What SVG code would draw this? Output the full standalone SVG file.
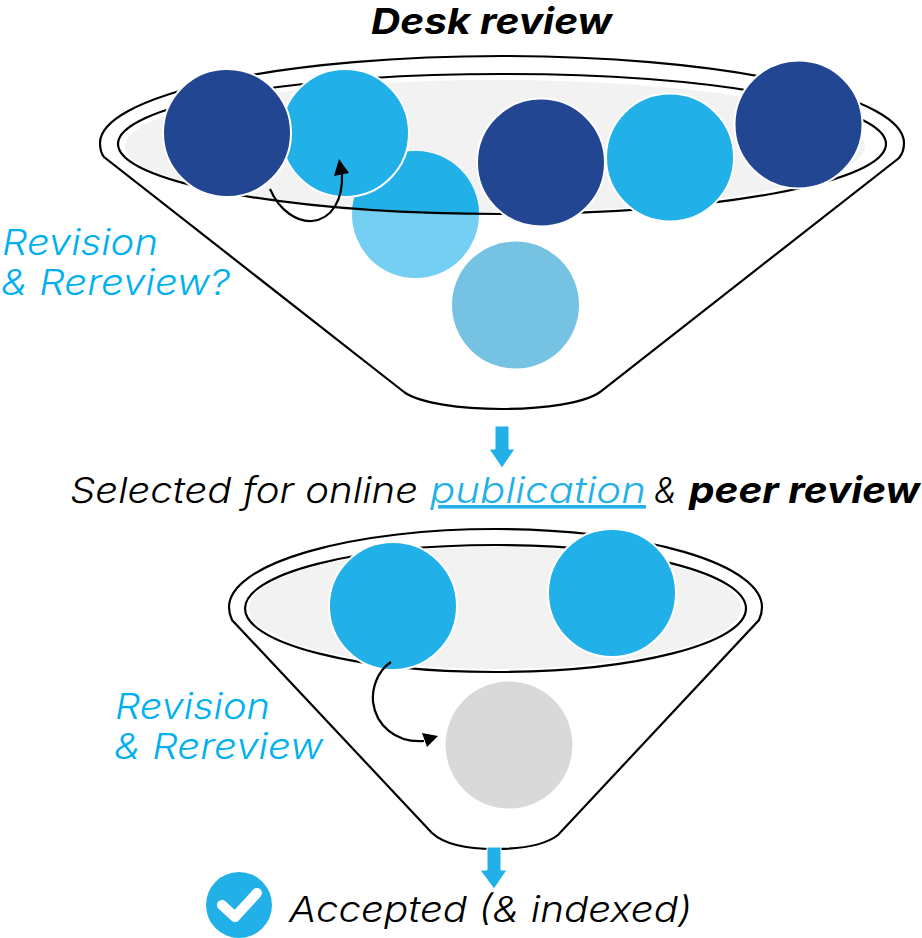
<svg xmlns="http://www.w3.org/2000/svg" width="922" height="938" viewBox="0 0 922 938">
<style>
.rim{fill:none;stroke:#000;stroke-width:2.2}
.basin{fill:#f2f2f2}
.ball{stroke:#fff;stroke-width:2}
.dark{fill:#224691}
.blue{fill:#22b0e8}
text{font-family:"Inter","Open Sans","Liberation Sans",sans-serif;font-style:italic;font-weight:300;font-size:36px;fill:#000}
.rev{fill:#00b0f0}
.b{font-weight:700}
.flow{fill:#22b0e8;stroke:#fff;stroke-width:1}
.curve{fill:none;stroke:#000;stroke-width:2.200}
</style>
<defs>
<clipPath id="topBasin"><ellipse cx="502" cy="144" rx="384" ry="70"/></clipPath>
</defs>
<rect width="922" height="938" fill="#fff"/>

<g id="funnel-top">
<path class="rim" d="M404,392L104,157Q100,152 100,143A402,87 0 0 1 904,143Q904,152 899,158L600,392C585,403 544,409 502,409C460,409 419,403 404,392Z"/>
<ellipse class="basin" cx="495" cy="146" rx="370" ry="66"/>
</g>
<g id="funnel-bottom">
<path class="rim" d="M432,833L232,620Q229,614 229,607A266.500,78 0 0 1 762,607Q762,614 759,620L558,835C545,845 522,849 495,849C468,849 445,845 432,833Z"/>
<ellipse class="basin" cx="495" cy="608" rx="246" ry="61"/>
<ellipse class="rim" cx="495.500" cy="608.500" rx="250.500" ry="63.500"/>
</g>

<g id="ball-sinking">
<circle cx="415.500" cy="214.500" r="63.500" fill="#74cff2"/>
<circle class="blue" cx="415.500" cy="214.500" r="63.500" clip-path="url(#topBasin)"/>
</g>
<ellipse id="rim-top-inner" class="rim" cx="502" cy="144" rx="384" ry="70"/>
<g id="ball-2"><circle class="ball blue" cx="345" cy="133" r="64"/></g>
<g id="ball-1"><circle class="ball dark" cx="227" cy="133" r="64"/></g>
<g id="ball-3"><circle class="ball dark" cx="541" cy="162.500" r="64"/></g>
<g id="ball-4"><circle class="ball blue" cx="670" cy="157.500" r="64"/></g>
<g id="ball-5"><circle class="ball dark" cx="798.500" cy="124.500" r="64"/></g>
<g id="ball-6"><circle cx="515.500" cy="305" r="63.500" fill="#75c2e3"/></g>
<g id="ball-7"><circle class="ball blue" cx="393" cy="606" r="64"/></g>
<g id="ball-8"><circle class="ball blue" cx="612" cy="593" r="64"/></g>
<g id="ball-9"><circle cx="509" cy="745" r="63.500" fill="#d9d9d9"/></g>

<g id="connectors">
<path class="curve" d="M270,189C280,212 298,222 312,221C332,219 343,200 342,174"/>
<path d="M339,159L349,173L334,176Z"/>
<path class="curve" d="M391,662C376,672 372,690 373,702C376,725 395,743 424,741"/>
<path d="M438,736L422,733L427,747Z"/>
<path class="flow" d="M495,426H509V449H515L502,468L489,449H495Z"/>
<path class="flow" d="M487,847H501V870H507L494,889L480,870H487Z"/>
</g>

<g id="check">
<circle cx="239" cy="905" r="33" fill="#22b0e8"/>
<path d="M222,905L235,917L257,893" fill="none" stroke="#fff" stroke-width="10" stroke-linecap="round" stroke-linejoin="round"/>
</g>

<g id="labels">
<text class="b" x="371" y="34" textLength="241" lengthAdjust="spacingAndGlyphs">Desk review</text>
<text class="rev" x="2" y="255" textLength="156" lengthAdjust="spacingAndGlyphs">Revision</text>
<text class="rev" x="1" y="295" textLength="229" lengthAdjust="spacingAndGlyphs">&amp; Rereview?</text>
<text x="70" y="503"><tspan textLength="348" lengthAdjust="spacingAndGlyphs">Selected for online</tspan><tspan x="430" textLength="216" lengthAdjust="spacingAndGlyphs" fill="#22b0e8" text-decoration="underline">publication</tspan><tspan x="654" textLength="23" lengthAdjust="spacingAndGlyphs">&amp;</tspan><tspan class="b" x="689" textLength="231" lengthAdjust="spacingAndGlyphs">peer review</tspan></text>
<text class="rev" x="115" y="719" textLength="155" lengthAdjust="spacingAndGlyphs">Revision</text>
<text class="rev" x="114" y="759" textLength="209" lengthAdjust="spacingAndGlyphs">&amp; Rereview</text>
<text x="289" y="922" textLength="403" lengthAdjust="spacingAndGlyphs">Accepted (&amp; indexed)</text>
</g>
</svg>
